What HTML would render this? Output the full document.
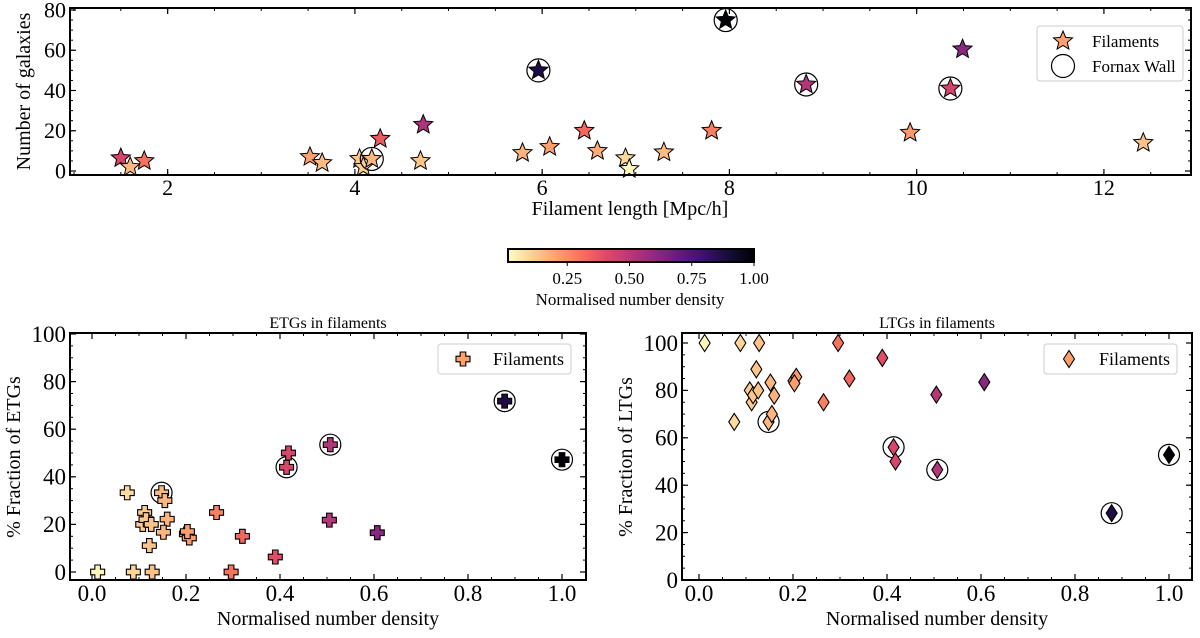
<!DOCTYPE html>
<html><head><meta charset="utf-8">
<style>
html,body{margin:0;padding:0;background:#fff;}
svg{display:block;font-family:"Liberation Serif",serif;}
</style></head>
<body>
<svg id="fig" width="1200" height="638" viewBox="0 0 1200 638" xmlns="http://www.w3.org/2000/svg">
<defs>
<linearGradient id="cbgrad" x1="0" x2="1" y1="0" y2="0">
<stop offset="0" stop-color="#fcfdbf"/><stop offset="0.1" stop-color="#fecf92"/><stop offset="0.2" stop-color="#fe9f6d"/><stop offset="0.3" stop-color="#f7705c"/><stop offset="0.4" stop-color="#de4968"/><stop offset="0.5" stop-color="#b73779"/><stop offset="0.6" stop-color="#8c2981"/><stop offset="0.7" stop-color="#641a80"/><stop offset="0.8" stop-color="#3b0f70"/><stop offset="0.9" stop-color="#140e36"/><stop offset="1" stop-color="#000004"/>
</linearGradient>
</defs>
</svg>
<script>
// ---- Top panel data ----
const topLength = [1.50,1.60,1.75,3.52,3.65,4.05,4.09,4.18,4.27,4.70,4.73,5.79,5.96,6.08,6.45,6.59,6.89,6.93,7.30,7.81,7.96,8.82,9.93,10.36,10.49,12.42];
const topCount  = [6.4,2,5,7,4,6,2,6,16,5,23,9,50,12,20,10,6.4,1,9.3,20,75,43,19,41,60.5,14];
const topDensity= [0.42,0.15,0.30,0.20,0.14,0.12,0.10,0.15,0.36,0.12,0.52,0.16,0.88,0.20,0.32,0.17,0.08,0.01,0.14,0.27,1.0,0.51,0.21,0.42,0.61,0.13];
const topFornax = [0,0,0,0,0,0,0,1,0,0,0,0,1,0,0,0,0,0,0,0,1,1,0,1,0,0];
const topXTicks = [2,4,6,8,10,12];
const topYTicks = [0,20,40,60,80];
// ---- Bottom panels data ----
const density = [0.012,0.075,0.088,0.128,0.108,0.112,0.115,0.122,0.126,0.148,0.155,0.160,0.152,0.201,0.207,0.203,0.265,0.296,0.320,0.390,0.414,0.418,0.507,0.505,0.607,0.878,1.0];
const etgFrac = [0,33.3,0,0,20,25,22,11.1,20,33.3,30,22.2,16.7,16,14.3,17,25,0,15,6.3,44,50,53.5,21.8,16.5,71.8,47.2];
const ltgFrac = [100,66.7,100,100,80,75,78,88.9,80,66.7,70,77.8,83.3,84,85.7,83,75,100,85,93.7,56,50,46.5,78.2,83.5,28.2,52.8];
const fornax  = [0,0,0,0,0,0,0,0,0,1,0,0,0,0,0,0,0,0,0,0,1,0,1,0,0,1,1];
const bottomXTicks = [0.0,0.2,0.4,0.6,0.8,1.0];
const bottomXLabels = ["0.0","0.2","0.4","0.6","0.8","1.0"];
const bottomYTicks = [0,20,40,60,80,100];
const cbTicks = [0.25,0.5,0.75,1.0];
const cbLabels = ["0.25","0.50","0.75","1.00"];

const NS="http://www.w3.org/2000/svg";
const svg=document.getElementById('fig');
function el(tag,attrs,parent,text){const e=document.createElementNS(NS,tag);for(const k in attrs)e.setAttribute(k,attrs[k]);if(text!==undefined)e.textContent=text;(parent||svg).appendChild(e);return e;}
const stops=[[252,253,191],[254,207,146],[254,159,109],[247,112,92],[222,73,104],[183,55,121],[140,41,129],[100,26,128],[59,15,112],[20,14,54],[0,0,4]];
function cmap(v){v=Math.max(0,Math.min(1,v));const t=v*10;const i=Math.min(9,Math.floor(t));const f=t-i;const a=stops[i],b=stops[i+1];return 'rgb('+a.map((c,k)=>Math.round(c+(b[k]-c)*f)).join(',')+')';}
function lin(d0,d1,r0,r1){return v=>r0+(v-d0)/(d1-d0)*(r1-r0);}
function starPath(cx,cy,R){const r=R*0.45;let p='';for(let i=0;i<10;i++){const a=-Math.PI/2+i*Math.PI/5;const rr=i%2?r:R;p+=(i?'L':'M')+(cx+rr*Math.cos(a)).toFixed(2)+','+(cy+rr*Math.sin(a)).toFixed(2);}return p+'Z';}
function plusPath(cx,cy,s,w){return `M${cx-w},${cy-s}H${cx+w}V${cy-w}H${cx+s}V${cy+w}H${cx+w}V${cy+s}H${cx-w}V${cy+w}H${cx-s}V${cy-w}H${cx-w}Z`;}
function diamondPath(cx,cy,w,h){return `M${cx},${cy-h}L${cx+w},${cy}L${cx},${cy+h}L${cx-w},${cy}Z`;}

function axes(g,L,T,R,B,sx,sy,xmaj,xmin,ymaj,ymin,fs,xlabels,ylabels){
  const tk=el('g',{},g);
  
  xmin.forEach(v=>{const x=sx(v);if(x<L||x>R)return;el('line',{x1:x,x2:x,y1:B,y2:B-3,stroke:'#000','stroke-width':1},tk);el('line',{x1:x,x2:x,y1:T,y2:T+3,stroke:'#000','stroke-width':1},tk);});
  ymin.forEach(v=>{const y=sy(v);if(y<T||y>B)return;el('line',{x1:L,x2:L+3,y1:y,y2:y,stroke:'#000','stroke-width':1},tk);el('line',{x1:R,x2:R-3,y1:y,y2:y,stroke:'#000','stroke-width':1},tk);});
  xmaj.forEach((v,i)=>{const x=sx(v);el('line',{x1:x,x2:x,y1:B,y2:B-6,stroke:'#000','stroke-width':1.2},tk);el('line',{x1:x,x2:x,y1:T,y2:T+6,stroke:'#000','stroke-width':1.2},tk);
    const t=el('text',{x:x,y:B+fs*0.92,'text-anchor':'middle','font-size':fs},g,xlabels[i]);});
  ymaj.forEach((v,i)=>{const y=sy(v);el('line',{x1:L,x2:L+6,y1:y,y2:y,stroke:'#000','stroke-width':1.2},tk);el('line',{x1:R,x2:R-6,y1:y,y2:y,stroke:'#000','stroke-width':1.2},tk);
    const t=el('text',{x:L-4,y:y+fs*0.34,'text-anchor':'end','font-size':fs},g,ylabels[i]);});
}
function range(a,b,s){const r=[];for(let v=a;v<=b+1e-9;v+=s)r.push(+v.toFixed(4));return r;}

// ===== Top panel =====
(function(){
  const L=70,T=8,R=1191,B=175;
  const sx=lin(0.957,12.93,L,R), sy=lin(0,80,171,10);
  const g=el('g',{});
  axes(g,L,T,R,B,sx,sy,topXTicks,range(1,13,0.5),topYTicks,range(0,80,5),22,topXTicks.map(String),topYTicks.map(String));
  const pts=el('g',{},g);
  topLength.forEach((x,i)=>{
    const cx=sx(x),cy=sy(topCount[i]);
    if(topFornax[i]){const c=el('circle',{cx:cx,cy:cy,r:11.5,fill:'none',stroke:'#000','stroke-width':1.2},pts);}
    const s=el('path',{d:starPath(cx,cy,10),fill:cmap(topDensity[i]),stroke:'#000','stroke-width':1},pts);
    
    
  });
  el('rect',{x:L,y:T,width:R-L,height:B-T,fill:'none',stroke:'#000','stroke-width':2},g);
  const yl=el('text',{x:0,y:0,transform:`translate(30,${(T+B)/2}) rotate(-90)`,'text-anchor':'middle','font-size':20},g,'Number of galaxies');
  const xl=el('text',{x:630,y:215,'text-anchor':'middle','font-size':20},g,'Filament length [Mpc/h]');
  const lg=el('g',{},g);
  el('rect',{x:1037,y:26,width:146,height:55,rx:3,fill:'#fff',stroke:'#ccc','stroke-width':1},lg);
  el('path',{d:starPath(1063,41,10),fill:cmap(0.2),stroke:'#000','stroke-width':1},lg);
  el('circle',{cx:1063,cy:66,r:11.5,fill:'none',stroke:'#000','stroke-width':1.2},lg);
  const t1=el('text',{x:1092,y:47,'font-size':17},lg,'Filaments');
  const t2=el('text',{x:1092,y:72,'font-size':17},lg,'Fornax Wall');
})();

// ===== Colorbar =====
(function(){
  const g=el('g',{});
  const L=508,R=754,T=249,B=262;const sx=lin(0.012,1,L,R);
  el('rect',{x:L,y:T,width:R-L,height:B-T,fill:'url(#cbgrad)',stroke:'#000','stroke-width':2},g);
  cbTicks.forEach((v,i)=>{const x=sx(v);el('line',{x1:x,x2:x,y1:B,y2:B+4,stroke:'#000','stroke-width':1},g);
    const t=el('text',{x:x,y:284,'text-anchor':'middle','font-size':17},g,cbLabels[i]);});
  const t=el('text',{x:630,y:305,'text-anchor':'middle','font-size':17},g,'Normalised number density');
})();

// ===== Bottom panels =====
function bottom(name,L,R,x0,x1,ydom,title,ylabel,vals,marker,titleX){
  const T=333,B=580;
  const sx=lin(0,1,x0,x1), sy=lin(ydom[0],ydom[1],ydom[2],ydom[3]);
  const g=el('g',{});
  axes(g,L,T,R,B,sx,sy,bottomXTicks,range(-0.05,1.05,0.05),bottomYTicks,range(0,105,5),23,bottomXLabels,bottomYTicks.map(String));
  const pts=el('g',{},g);
  density.forEach((d,i)=>{
    const cx=sx(d),cy=sy(vals[i]);
    if(fornax[i]){const c=el('circle',{cx:cx,cy:cy,r:10.5,fill:'none',stroke:'#000','stroke-width':1.2},pts);}
    const p=el('path',{d:marker(cx,cy),fill:cmap(d),stroke:'#000','stroke-width':1.1},pts);
    
    
  });
  el('rect',{x:L,y:T,width:R-L,height:B-T,fill:'none',stroke:'#000','stroke-width':2},g);
  const tt=el('text',{x:titleX,y:328,'text-anchor':'middle','font-size':16},g,title);
  const xl=el('text',{x:titleX,y:625,'text-anchor':'middle','font-size':20},g,'Normalised number density');
  const yl=el('text',{x:0,y:0,transform:`translate(${L-50},457) rotate(-90)`,'text-anchor':'middle','font-size':20},g,ylabel);
  const lg=el('g',{},g);
  const lx=R-148;
  el('rect',{x:lx,y:344,width:133,height:30,rx:3,fill:'#fff',stroke:'#ccc','stroke-width':1},lg);
  el('path',{d:marker(lx+25,359),fill:cmap(0.2),stroke:'#000','stroke-width':1.1},lg);
  const t=el('text',{x:lx+55,y:365,'font-size':18},lg,'Filaments');
}
bottom('etg-panel',70,586,92,562,[0,100,572,334],'ETGs in filaments','% Fraction of ETGs',etgFrac,(x,y)=>plusPath(x,y,7,2.8),328);
bottom('ltg-panel',682,1192,699,1169,[0,100,580,343],'LTGs in filaments','% Fraction of LTGs',ltgFrac,(x,y)=>diamondPath(x,y,5.5,8.5),937);
</script>
</body></html>
